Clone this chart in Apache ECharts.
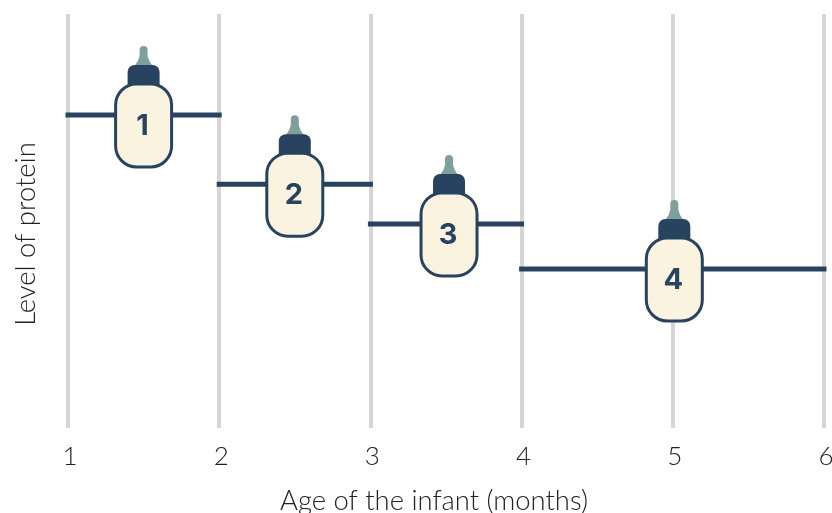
<!DOCTYPE html>
<html>
<head>
<meta charset="utf-8">
<style>
    html, body { margin: 0; padding: 0; background: #fff; overflow: hidden; }
    #chart { width: 832px; height: 513px; }
</style>
</head>
<body>
<div id="chart"></div>
<script src="https://cdn.jsdelivr.net/npm/echarts@6/dist/echarts.min.js"></script>
<script>
    const stepStart = [1, 2, 3, 4];
    const stepEnd = [2, 3, 4, 6];
    const stepLevel = [75.6, 58.9, 49.3, 38.4];
    const bottleAge = [1.5, 2.5, 3.52, 5.01];
    const bottleLabel = ['1', '2', '3', '4'];

    const NAVY = '#28435f';

    const myChart = echarts.init(document.getElementById('chart'));

    // one flat line per feeding stage
    const stepSeries = stepLevel.map((level, i) => ({
        type: 'line',
        data: [[stepStart[i], level], [stepEnd[i], level]],
        showSymbol: false,
        silent: true,
        clip: false,
        z: 2,
        lineStyle: {color: NAVY, width: 5, cap: 'square'},
    }));

    // bottle is drawn around the point where it crosses its stage line
    function renderBottle(params, api) {
        const pos = api.coord([api.value(0), api.value(1)]);
        return {
            type: 'group',
            x: pos[0],
            y: pos[1],
            children: [
                {
                    type: 'path',
                    shape: {pathData: 'M-4 -65 Q-4 -69 0 -69 Q4 -69 4 -65 L4 -59 Q5 -54 9 -49 L-9 -49 Q-5 -54 -4 -59 Z'},
                    style: {fill: '#7f9f9c'},
                },
                {
                    type: 'rect',
                    shape: {x: -16, y: -50, width: 32, height: 26, r: [7, 7, 0, 0]},
                    style: {fill: NAVY},
                },
                {
                    type: 'rect',
                    shape: {x: -28, y: -31, width: 56, height: 83, r: 21},
                    style: {fill: '#f9f3e0', stroke: NAVY, lineWidth: 3},
                },
                {
                    type: 'text',
                    x: -1,
                    y: 11,
                    style: {
                        text: api.value(2),
                        fill: NAVY,
                        font: '700 29px Inter',
                        align: 'center',
                        verticalAlign: 'middle',
                    },
                },
            ],
        };
    }

    myChart.setOption({
        animation: false,
        backgroundColor: '#fff',
        grid: {left: 68, right: 8, top: 14, bottom: 85, outerBoundsMode: 'none'},
        xAxis: {
            type: 'value',
            min: 1,
            max: 6,
            interval: 1,
            name: 'Age of the infant (months)',
            nameLocation: 'middle',
            nameGap: 60,
            nameTextStyle: {fontFamily: 'Lato', fontWeight: 300, fontSize: 27.4, color: '#222', padding: [0, 24, 0, 0]},
            axisLine: {show: false},
            axisTick: {show: false},
            axisLabel: {fontFamily: 'Lato', fontWeight: 300, fontSize: 26, color: '#222', margin: 16, padding: [0, 0, 0, 4], hideOverlap: false, showMinLabel: true, showMaxLabel: true},
            splitLine: {show: true, lineStyle: {color: '#d6d6d6', width: 4}},
        },
        yAxis: {
            type: 'value',
            min: 0,
            max: 100,
            name: 'Level of protein',
            nameLocation: 'middle',
            nameGap: 28,
            nameTextStyle: {fontFamily: 'Lato', fontWeight: 300, fontSize: 27.4, color: '#222', padding: [0, 26, 0, 0]},
            axisLine: {show: false},
            axisTick: {show: false},
            axisLabel: {show: false},
            splitLine: {show: false},
        },
        series: stepSeries.concat([{
            type: 'custom',
            renderItem: renderBottle,
            clip: false,
            z: 3,
            encode: {x: 0, y: 1},
            data: bottleAge.map((age, i) => [age, stepLevel[i], bottleLabel[i]]),
        }]),
    });
</script>
</body>
</html>
